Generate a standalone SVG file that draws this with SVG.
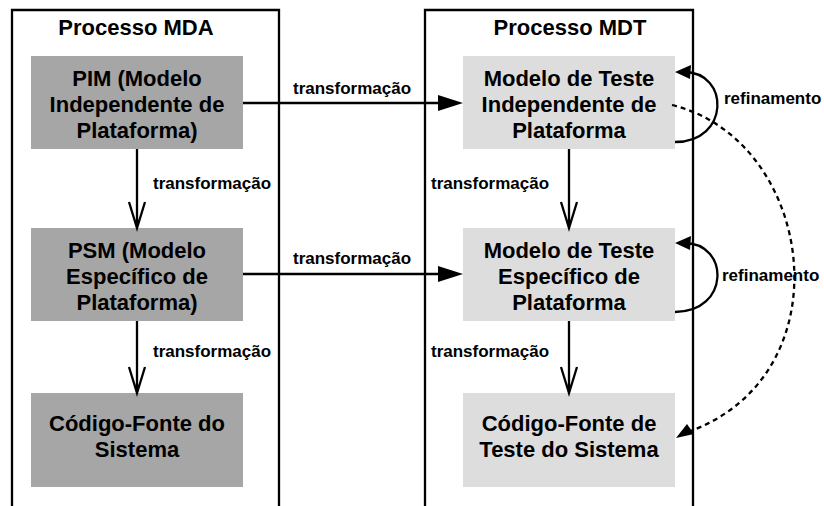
<svg xmlns="http://www.w3.org/2000/svg" width="824" height="506" viewBox="0 0 824 506">
<style>
text{font-family:"Liberation Sans",Arial,sans-serif;font-weight:bold;fill:#000}
.title{font-size:22px;text-anchor:middle}
.node{font-size:22px;text-anchor:middle}
.lbl{font-size:17px}
.cont{fill:none;stroke:#000;stroke-width:2.3}
.mda{fill:#a6a6a6}
.mdt{fill:#dddddd}
.ln{fill:none;stroke:#000;stroke-width:2.3}
.dash{fill:none;stroke:#000;stroke-width:2.3;stroke-dasharray:5 4}
.head{fill:#000}
</style>
<rect width="824" height="506" fill="#fff"/>
<g id="processo-mda">
<path class="cont" d="M12,510 V10 H279 V510"/>
<text class="title" x="136" y="35">Processo MDA</text>
</g>
<g id="processo-mdt">
<path class="cont" d="M425,510 V10 H693 V510"/>
<text class="title" x="570" y="35">Processo MDT</text>
</g>
<g id="pim">
<rect class="mda" x="31" y="56" width="212" height="93"/>
<text class="node" x="137" y="86">PIM (Modelo</text>
<text class="node" x="137" y="112">Independente de</text>
<text class="node" x="137" y="138">Plataforma)</text>
</g>
<g id="psm">
<rect class="mda" x="31" y="228" width="212" height="93"/>
<text class="node" x="137" y="258">PSM (Modelo</text>
<text class="node" x="137" y="284">Específico de</text>
<text class="node" x="137" y="310">Plataforma)</text>
</g>
<g id="codigo">
<rect class="mda" x="31" y="393" width="212" height="94"/>
<text class="node" x="137" y="431">Código-Fonte do</text>
<text class="node" x="137" y="457">Sistema</text>
</g>
<g id="mti">
<rect class="mdt" x="463" y="56" width="212" height="93"/>
<text class="node" x="569" y="86">Modelo de Teste</text>
<text class="node" x="569" y="112">Independente de</text>
<text class="node" x="569" y="138">Plataforma</text>
</g>
<g id="mte">
<rect class="mdt" x="463" y="228" width="212" height="93"/>
<text class="node" x="569" y="258">Modelo de Teste</text>
<text class="node" x="569" y="284">Específico de</text>
<text class="node" x="569" y="310">Plataforma</text>
</g>
<g id="codigo-teste">
<rect class="mdt" x="463" y="393" width="212" height="94"/>
<text class="node" x="569" y="431">Código-Fonte de</text>
<text class="node" x="569" y="457">Teste do Sistema</text>
</g>
<g id="connectors">
<path class="ln" d="M137,149 V227 M129,202 L137,228 L145,202"/>
<text class="lbl" x="153" y="189">transformação</text>
<path class="ln" d="M137,321 V392 M129,367 L137,393 L145,367"/>
<text class="lbl" x="153" y="357">transformação</text>
<path class="ln" d="M569,149 V227 M561,202 L569,228 L577,202"/>
<text class="lbl" x="431" y="189">transformação</text>
<path class="ln" d="M569,321 V392 M561,367 L569,393 L577,367"/>
<text class="lbl" x="431" y="357">transformação</text>
<path class="ln" d="M243,103 H440"/>
<polygon class="head" points="463,103 438,95 438,111"/>
<text class="lbl" x="293" y="94">transformação</text>
<path class="ln" d="M243,274 H440"/>
<polygon class="head" points="463,274 438,266 438,282"/>
<text class="lbl" x="293" y="264">transformação</text>
<path class="ln" d="M675,142 C730,142 730,72 684,72"/>
<polygon class="head" points="675,72 691,65 690,79"/>
<text class="lbl" x="724" y="104">refinamento</text>
<path class="ln" d="M675,312 C730,312 730,243 684,243"/>
<polygon class="head" points="675,243 691,236 690,250"/>
<text class="lbl" x="722" y="281">refinamento</text>
<path class="dash" d="M672,105 C815,140 848,375 688,432"/>
<polygon class="head" points="676,438 694,434 687,424"/>
</g>
</svg>
